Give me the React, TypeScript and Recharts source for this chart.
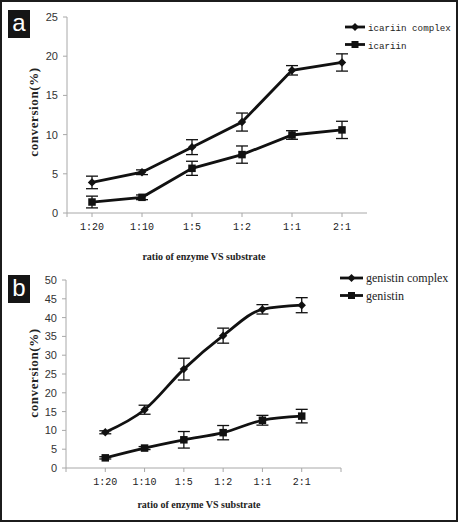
import { LineChart, Line, XAxis, YAxis, ErrorBar } from "recharts";

// categories on the x axis
const ratios = ["1:20", "1:10", "1:5", "1:2", "1:1", "2:1"];

// panel a: icariin
const seriesNamesA = ["icariin complex", "icariin"];
const icariinComplex = [3.9, 5.2, 8.4, 11.6, 18.2, 19.2];
const icariinComplexErr = [0.8, 0.3, 0.95, 1.15, 0.6, 1.1];
const icariin = [1.4, 2.0, 5.7, 7.45, 9.95, 10.6];
const icariinErr = [0.75, 0.3, 0.9, 1.1, 0.55, 1.1];

// panel b: genistin
const seriesNamesB = ["genistin complex", "genistin"];
const genistinComplex = [9.5, 15.5, 26.3, 35.2, 42.2, 43.3];
const genistinComplexErr = [0.4, 1.2, 2.9, 2.0, 1.25, 2.0];
const genistin = [2.7, 5.3, 7.5, 9.4, 12.7, 13.8];
const genistinErr = [0.3, 0.4, 2.2, 1.9, 1.3, 1.8];

const ticksA = [0, 5, 10, 15, 20, 25];
const ticksB = [0, 5, 10, 15, 20, 25, 30, 35, 40, 45, 50];

const axisGray = "#a8a8a8";
const ink = "#111";

const rows = (a: number[], aErr: number[], b: number[], bErr: number[], offset: number) =>
  ratios.map((r, i) => ({
    ratio: r,
    pos: i + offset,
    complex: a[i],
    complexErr: aErr[i],
    single: b[i],
    singleErr: bErr[i],
  }));

const dataA = rows(icariinComplex, icariinComplexErr, icariin, icariinErr, 0.5);
const dataB = rows(genistinComplex, genistinComplexErr, genistin, genistinErr, 1);

const Diamond = (props: any) => {
  const { cx, cy, index } = props;
  if (cx == null || cy == null) return <g key={index} />;
  const r = 4.2;
  return (
    <polygon
      key={index}
      points={`${cx},${cy - r} ${cx + r},${cy} ${cx},${cy + r} ${cx - r},${cy}`}
      fill={ink}
    />
  );
};

const Square = (props: any) => {
  const { cx, cy, index } = props;
  if (cx == null || cy == null) return <g key={index} />;
  const s = 7.5;
  return <rect key={index} x={cx - s / 2} y={cy - s / 2} width={s} height={s} fill={ink} />;
};

// legend drawn beside the plot, like the original figure
function SeriesLegend(props: { names: string[]; left: number; top: number; font: string; size: number; lineLen: number }) {
  const { names, left, top, font, size, lineLen } = props;
  return (
    <svg style={{ position: "absolute", left, top }} width={112} height={40}>
      {names.map((name, i) => {
        const y = 9 + i * 17.5;
        const mid = lineLen / 2;
        return (
          <g key={name}>
            <line x1={0} x2={lineLen} y1={y} y2={y} stroke={ink} strokeWidth={2.8} />
            {i === 0 ? (
              <polygon points={`${mid},${y - 4} ${mid + 4},${y} ${mid},${y + 4} ${mid - 4},${y}`} fill={ink} />
            ) : (
              <rect x={mid - 3.5} y={y - 3.5} width={7} height={7} fill={ink} />
            )}
            <text x={lineLen + 3} y={y + 4} fontFamily={font} fontSize={size} fill="#222">
              {name}
            </text>
          </g>
        );
      })}
    </svg>
  );
}

const labelA = (v: number) => {
  const i = Math.round(v - 0.5);
  return v % 1 !== 0 && ratios[i] ? ratios[i] : "";
};
const labelB = (v: number) => ratios[v - 1] ?? "";

const yTick = { fontFamily: "Liberation Sans", fontSize: 11, fill: "#333" };
const xTick = { fontFamily: "Liberation Mono", fontSize: 10, fill: "#222" };

const titleStyle: React.CSSProperties = {
  position: "absolute",
  fontFamily: "Liberation Serif",
  fontWeight: "bold",
  color: "#222",
  whiteSpace: "nowrap",
  transform: "translate(-50%, -50%)",
};

const badge = (top: number, txt: string) => (
  <div
    style={{
      position: "absolute",
      left: 8,
      top,
      width: 22,
      height: 28,
      background: "#151515",
      color: "#fff",
      fontFamily: "Liberation Sans",
      fontSize: 24,
      lineHeight: "26px",
      textAlign: "center",
    }}
  >
    {txt}
  </div>
);

export default function App() {
  return (
    <div style={{ position: "fixed", left: 0, top: 0, width: 458, height: 522, background: "#fff" }}>
      <div style={{ position: "absolute", left: 0, top: 0 }}>
        <LineChart width={458} height={260} data={dataA} margin={{ top: 17, right: 91, bottom: 17, left: 7 }}>
          <XAxis
            type="number"
            dataKey="pos"
            domain={[0, 6]}
            ticks={[0, 0.5, 1.5, 2.5, 3.5, 4.5, 5.5]}
            interval={0}
            tickFormatter={labelA}
            height={30}
            tickSize={4}
            tickMargin={6}
            stroke={axisGray}
            tick={xTick}
          />
          <YAxis
            domain={[0, 25]}
            ticks={ticksA}
            interval={0}
            width={60}
            tickSize={4}
            tickMargin={5}
            stroke={axisGray}
            tick={yTick}
          />
          <Line
            name={seriesNamesA[0]}
            dataKey="complex"
            type="linear"
            stroke={ink}
            strokeWidth={2.8}
            dot={Diamond}
            isAnimationActive={false}
          >
            <ErrorBar dataKey="complexErr" direction="y" width={6} stroke={ink} strokeWidth={1.3} />
          </Line>
          <Line
            name={seriesNamesA[1]}
            dataKey="single"
            type="linear"
            stroke={ink}
            strokeWidth={2.8}
            dot={Square}
            isAnimationActive={false}
          >
            <ErrorBar dataKey="singleErr" direction="y" width={6} stroke={ink} strokeWidth={1.3} />
          </Line>
        </LineChart>
      </div>

      <div style={{ position: "absolute", left: 0, top: 255 }}>
        <LineChart width={458} height={267} data={dataB} margin={{ top: 25, right: 117, bottom: 24, left: 6 }}>
          <XAxis
            type="number"
            dataKey="pos"
            domain={[0, 7]}
            ticks={[0, 1, 2, 3, 4, 5, 6, 7]}
            interval={0}
            tickFormatter={labelB}
            height={30}
            tickSize={4}
            tickMargin={6}
            stroke={axisGray}
            tick={xTick}
          />
          <YAxis
            domain={[0, 50]}
            ticks={ticksB}
            interval={0}
            width={60}
            tickSize={4}
            tickMargin={5}
            stroke={axisGray}
            tick={yTick}
          />
          <Line
            name={seriesNamesB[0]}
            dataKey="complex"
            type="monotone"
            stroke={ink}
            strokeWidth={2.8}
            dot={Diamond}
            isAnimationActive={false}
          >
            <ErrorBar dataKey="complexErr" direction="y" width={6} stroke={ink} strokeWidth={1.3} />
          </Line>
          <Line
            name={seriesNamesB[1]}
            dataKey="single"
            type="monotone"
            stroke={ink}
            strokeWidth={2.8}
            dot={Square}
            isAnimationActive={false}
          >
            <ErrorBar dataKey="singleErr" direction="y" width={6} stroke={ink} strokeWidth={1.3} />
          </Line>
        </LineChart>
      </div>

      <SeriesLegend names={seriesNamesA} left={345} top={18} font="Liberation Mono" size={9.2} lineLen={20} />
      <SeriesLegend names={seriesNamesB} left={340} top={269} font="Liberation Serif" size={12} lineLen={23} />

      {badge(10, "a")}
      {badge(275, "b")}

      <div
        style={{
          ...titleStyle,
          left: 34,
          top: 112,
          fontSize: 13,
          letterSpacing: 0.6,
          transform: "translate(-50%, -50%) rotate(-90deg)",
        }}
      >
        conversion(%)
      </div>
      <div
        style={{
          ...titleStyle,
          left: 34,
          top: 373,
          fontSize: 13,
          letterSpacing: 0.6,
          transform: "translate(-50%, -50%) rotate(-90deg)",
        }}
      >
        conversion(%)
      </div>
      <div style={{ ...titleStyle, left: 204, top: 256, fontSize: 10 }}>ratio of enzyme VS substrate</div>
      <div style={{ ...titleStyle, left: 199, top: 504, fontSize: 10 }}>ratio of enzyme VS substrate</div>

      <div
        style={{
          position: "absolute",
          left: 0,
          top: 0,
          width: 458,
          height: 522,
          boxSizing: "border-box",
          border: "2px solid #1c1c1c",
          pointerEvents: "none",
        }}
      />
    </div>
  );
}
